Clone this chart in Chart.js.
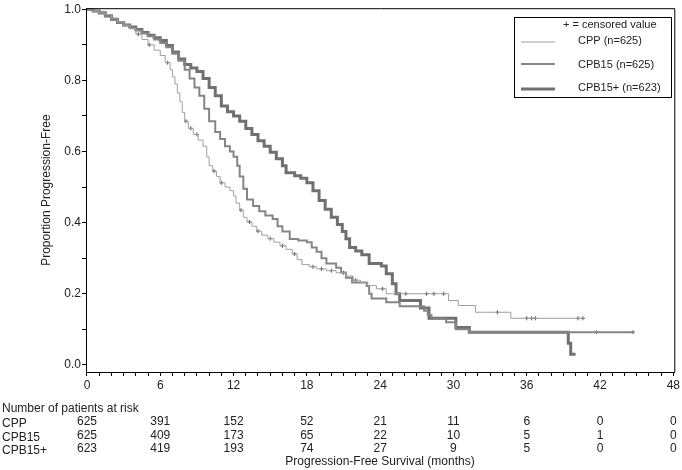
<!DOCTYPE html>
<html>
<head>
<meta charset="utf-8">
<script src="https://cdn.jsdelivr.net/npm/chart.js@4.4.1/dist/chart.umd.min.js"></script>
<style>
html, body { margin: 0; padding: 0; background: #fff; }
</style>
</head>
<body>
<canvas id="chart" width="682" height="470"></canvas>
<script>
// series labels
const seriesNames = ['CPP (n=625)', 'CPB15 (n=625)', 'CPB15+ (n=623)'];
const rowNames = ['CPP', 'CPB15', 'CPB15+'];

// Kaplan-Meier steps (months, proportion)
const cppTime = [0, 0.5, 1, 1.5, 2, 2.5, 3, 3.5, 4, 4.5, 5, 5.5, 6, 6.4, 6.8, 7, 7.2, 7.4, 7.6, 7.8, 8, 8.3, 8.7, 9.1, 9.5, 9.8, 10, 10.3, 10.6, 10.9, 11.3, 11.7, 12, 12.2, 12.5, 12.8, 13.1, 13.5, 13.9, 14.3, 14.8, 15.3, 15.8, 16.3, 16.8, 17.2, 17.6, 18.2, 18.8, 19.6, 20.4, 21.2, 21.8, 22.4, 23, 23.7, 24.5, 29.6, 30.4, 31.8, 34.7, 40.7];
const cppSurv = [1, 0.995, 0.99, 0.985, 0.975, 0.965, 0.955, 0.945, 0.93, 0.915, 0.9, 0.885, 0.87, 0.85, 0.83, 0.81, 0.79, 0.765, 0.74, 0.71, 0.685, 0.665, 0.648, 0.632, 0.615, 0.585, 0.56, 0.545, 0.53, 0.512, 0.5, 0.49, 0.475, 0.455, 0.435, 0.415, 0.402, 0.39, 0.376, 0.365, 0.355, 0.345, 0.335, 0.325, 0.312, 0.296, 0.282, 0.276, 0.27, 0.265, 0.259, 0.25, 0.238, 0.231, 0.223, 0.214, 0.2, 0.181, 0.167, 0.148, 0.131, 0.131];

const cpb15Time = [0, 0.5, 1, 1.5, 2, 2.5, 3, 3.5, 4, 4.5, 5, 5.5, 6, 6.5, 7, 7.5, 8, 8.4, 8.8, 9.2, 9.6, 10, 10.5, 10.9, 11.3, 11.7, 12, 12.3, 12.5, 12.8, 13.1, 13.6, 14.1, 14.6, 15.2, 15.6, 16, 16.6, 17.3, 18, 18.4, 18.8, 19.2, 19.6, 20.4, 20.8, 21.2, 21.7, 22.9, 23.1, 23.3, 24.5, 25.6, 27.6, 27.9, 28.2, 29.4, 30.2, 31.3, 44.7];
const cpb15Surv = [1, 0.995, 0.988, 0.98, 0.97, 0.962, 0.955, 0.948, 0.94, 0.932, 0.924, 0.915, 0.905, 0.893, 0.875, 0.855, 0.83, 0.805, 0.78, 0.757, 0.72, 0.685, 0.655, 0.635, 0.615, 0.6, 0.585, 0.56, 0.53, 0.495, 0.465, 0.447, 0.432, 0.42, 0.41, 0.39, 0.375, 0.354, 0.35, 0.345, 0.33, 0.318, 0.3, 0.285, 0.273, 0.26, 0.245, 0.232, 0.222, 0.2, 0.187, 0.176, 0.165, 0.152, 0.14, 0.13, 0.12, 0.1, 0.092, 0.092];

const cpb15pTime = [0, 0.5, 1, 1.5, 2, 2.5, 3, 3.5, 4, 4.5, 5, 5.5, 6, 6.5, 7, 7.5, 8, 8.5, 9, 9.5, 10, 10.5, 11, 11.5, 12, 12.5, 13, 13.5, 14, 14.5, 15, 15.5, 16, 16.3, 17, 17.5, 18, 18.5, 19, 19.5, 20, 20.5, 20.9, 21.2, 21.5, 22, 22.5, 23.1, 24.1, 24.5, 25, 25.3, 25.6, 27.3, 28, 30.2, 31.3, 39.4, 39.6, 40];
const cpb15pSurv = [1, 0.995, 0.99, 0.982, 0.972, 0.963, 0.956, 0.95, 0.943, 0.935, 0.927, 0.92, 0.912, 0.898, 0.88, 0.86, 0.845, 0.835, 0.825, 0.805, 0.78, 0.757, 0.728, 0.712, 0.7, 0.685, 0.665, 0.648, 0.63, 0.615, 0.598, 0.58, 0.56, 0.54, 0.532, 0.525, 0.512, 0.49, 0.462, 0.438, 0.415, 0.395, 0.375, 0.355, 0.33, 0.32, 0.31, 0.285, 0.278, 0.256, 0.228, 0.2, 0.181, 0.16, 0.131, 0.105, 0.092, 0.061, 0.03, 0.03];

// censored times (months)
const cppCensor = [4.2, 5.1, 6.6, 8.1, 8.5, 9.0, 10.4, 11.0, 12.6, 13.3, 14.0, 15.0, 16.0, 17.0, 18.5, 19.2, 20.0, 21.0, 22.0, 24.2, 26.1, 27.8, 28.4, 29.2, 33.6, 36.0, 36.4, 36.7, 40.2, 40.6];
const cpb15Censor = [41.7, 44.7];

// number at risk
const riskTimes = [0, 6, 12, 18, 24, 30, 36, 42, 48];
const cppRisk = [625, 391, 152, 52, 21, 11, 6, 0, 0];
const cpb15Risk = [625, 409, 173, 65, 22, 10, 5, 1, 0];
const cpb15pRisk = [623, 419, 193, 74, 27, 9, 5, 0, 0];

// axis ticks
const xTicks = [];
for (let m = 0; m <= 48; m++) xTicks.push(m);
const yTicks = [0, 0.1, 0.2, 0.3, 0.4, 0.5, 0.6, 0.7, 0.8, 0.9, 1.0];

const lineColors = ['#a0a0a0', '#858585', '#707070'];
const lineWidths = [1, 2, 3];
const FONT = '"Liberation Sans", Arial, sans-serif';

function toPoints(t, s) {
    return t.map(function (v, i) { return { x: v, y: s[i] }; });
}

function survAt(t, s, x) {
    let k = 0;
    for (let i = 0; i < t.length; i++) {
        if (t[i] <= x) k = i;
    }
    return s[k];
}

function censorPoints(times, t, s) {
    return times.map(function (c) { return { x: c, y: survAt(t, s, c) }; });
}

const curves = [[cppTime, cppSurv], [cpb15Time, cpb15Surv], [cpb15pTime, cpb15pSurv]];

const datasets = curves.map(function (c, i) {
    return {
        label: seriesNames[i],
        data: toPoints(c[0], c[1]),
        borderColor: lineColors[i],
        borderWidth: lineWidths[i],
        stepped: true,
        pointRadius: 0,
        fill: false
    };
});
datasets.push({
    label: 'cpp censored',
    data: censorPoints(cppCensor, cppTime, cppSurv),
    showLine: false,
    pointStyle: 'cross',
    pointRadius: 2,
    borderColor: '#555',
    borderWidth: 1
});
datasets.push({
    label: 'cpb15 censored',
    data: censorPoints(cpb15Censor, cpb15Time, cpb15Surv),
    showLine: false,
    pointStyle: 'cross',
    pointRadius: 2,
    borderColor: '#666',
    borderWidth: 1
});

const extras = {
    id: 'extras',
    afterDraw: function (chart) {
        const ctx = chart.ctx;
        const a = chart.chartArea;
        const xs = chart.scales.x;
        ctx.save();
        // frame top/right
        ctx.strokeStyle = '#000';
        ctx.lineWidth = 1;
        ctx.beginPath();
        ctx.moveTo(a.left, a.top + 0.5);
        ctx.lineTo(a.right + 0.5, a.top + 0.5);
        ctx.lineTo(a.right + 0.5, a.bottom);
        ctx.stroke();

        // legend
        ctx.strokeRect(514.5, 17.5, 157, 80);
        ctx.fillStyle = '#222';
        ctx.font = '11px ' + FONT;
        ctx.textBaseline = 'middle';
        ctx.textAlign = 'left';
        ctx.fillText('+ = censored value', 563, 25);
        const lineY = [42, 64, 89];
        const textY = [41, 65, 88];
        for (let i = 0; i < 3; i++) {
            ctx.strokeStyle = lineColors[i];
            ctx.lineWidth = lineWidths[i];
            ctx.beginPath();
            ctx.moveTo(521, lineY[i]);
            ctx.lineTo(555, lineY[i]);
            ctx.stroke();
            ctx.fillText(seriesNames[i], 578, textY[i]);
        }

        // y title
        ctx.font = '12px ' + FONT;
        ctx.save();
        ctx.translate(47, (a.top + a.bottom) / 2);
        ctx.rotate(-Math.PI / 2);
        ctx.textAlign = 'center';
        ctx.fillText('Proportion Progression-Free', 0, 0);
        ctx.restore();

        // at-risk table
        ctx.textAlign = 'left';
        ctx.fillText('Number of patients at risk', 2, 409);
        const rows = [cppRisk, cpb15Risk, cpb15pRisk];
        const rowY = [424, 438, 451];
        for (let r = 0; r < 3; r++) {
            ctx.textAlign = 'left';
            ctx.fillText(rowNames[r], 2, rowY[r]);
            ctx.textAlign = 'center';
            for (let k = 0; k < riskTimes.length; k++) {
                ctx.fillText(String(rows[r][k]), xs.getPixelForValue(riskTimes[k]), rowY[r] - 2);
            }
        }
        // x title
        ctx.textAlign = 'center';
        ctx.fillText('Progression-Free Survival (months)', 380, 462);
        ctx.restore();
    }
};

new Chart(document.getElementById('chart'), {
    type: 'line',
    data: { datasets: datasets },
    options: {
        responsive: false,
        animation: false,
        layout: { padding: { left: 0, right: 6, top: 5, bottom: 0 } },
        plugins: {
            legend: { display: false },
            tooltip: { enabled: false }
        },
        scales: {
            x: {
                type: 'linear',
                min: -0.08,
                max: 48.08,
                afterBuildTicks: function (s) { s.ticks = xTicks.map(function (v) { return { value: v }; }); },
                afterFit: function (s) { s.height = 98; },
                ticks: {
                    autoSkip: false,
                    maxRotation: 0,
                    padding: 2,
                    color: '#222',
                    font: { family: FONT, size: 12 },
                    callback: function (v) { return v % 6 === 0 ? String(v) : ''; }
                },
                grid: { drawOnChartArea: false, tickLength: 4, color: '#000' },
                border: { color: '#000', width: 1 }
            },
            y: {
                min: -0.02,
                max: 1.003,
                afterBuildTicks: function (s) { s.ticks = yTicks.map(function (v) { return { value: v }; }); },
                afterFit: function (s) { s.width = 86; },
                ticks: {
                    padding: 1,
                    color: '#222',
                    font: { family: FONT, size: 12 },
                    callback: function (v) { return Math.round(v * 10) % 2 === 0 ? v.toFixed(1) : ''; }
                },
                grid: { drawOnChartArea: false, tickLength: 4, color: '#000' },
                border: { color: '#000', width: 1 }
            }
        }
    },
    plugins: [extras]
});
</script>
</body>
</html>
